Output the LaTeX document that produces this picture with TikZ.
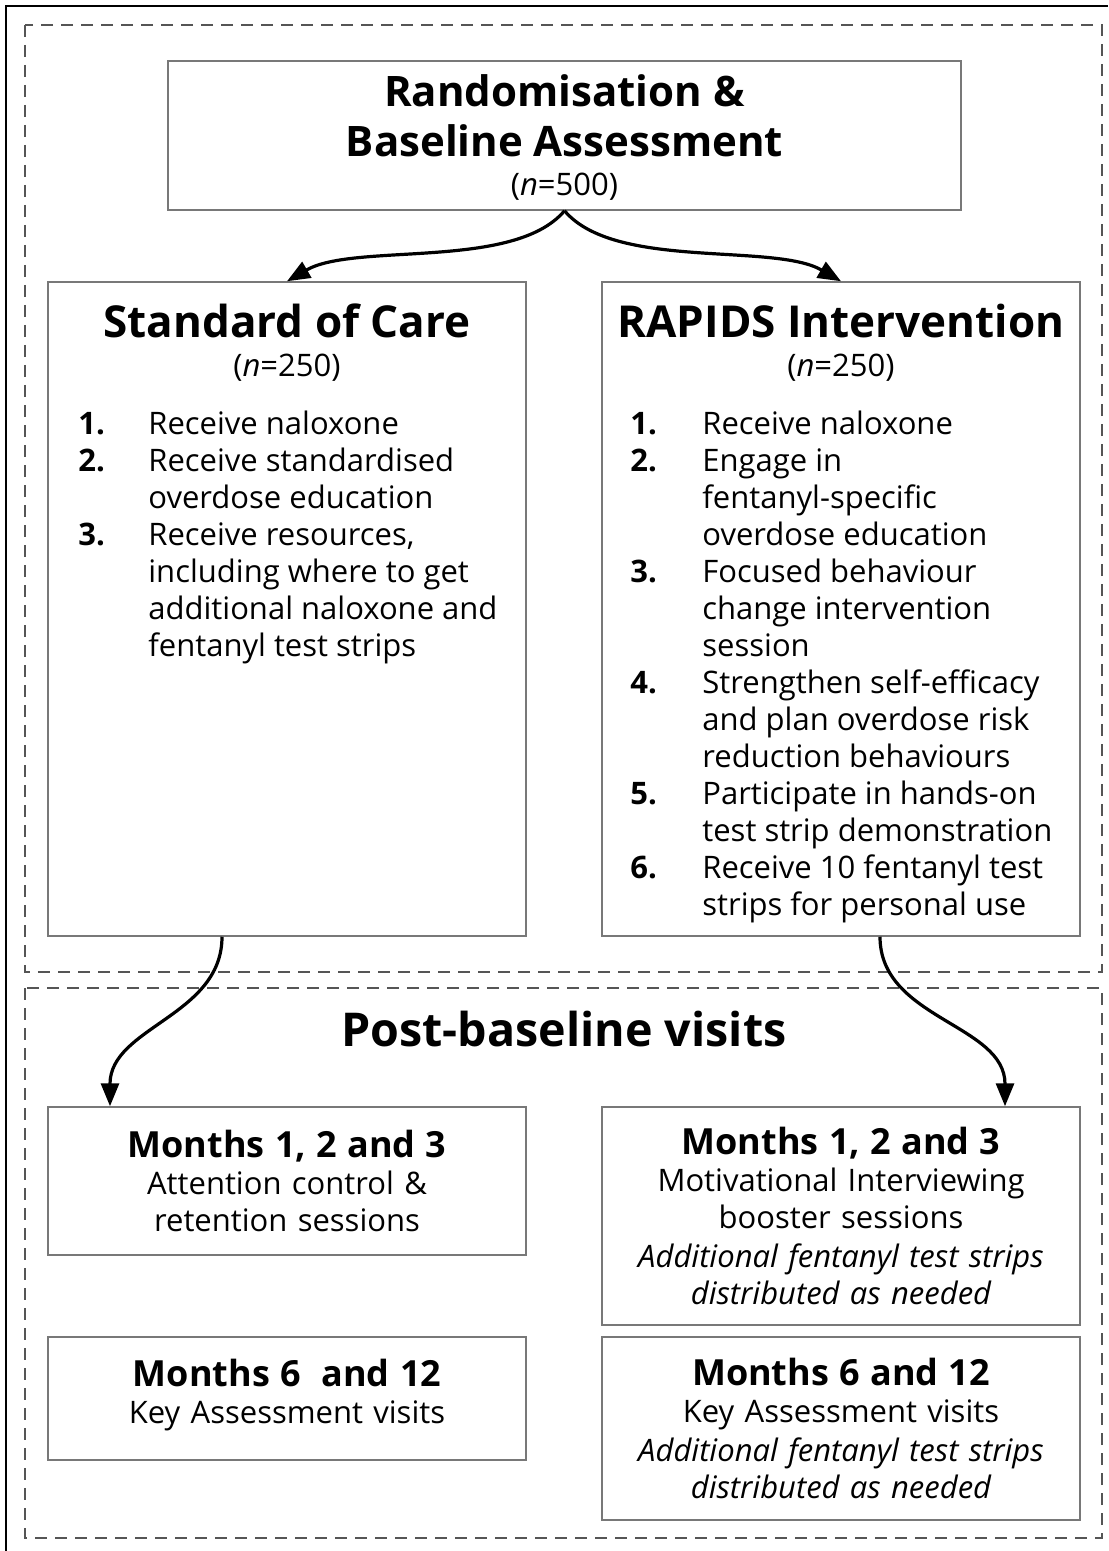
\documentclass[tikz,border=0pt]{standalone}
\usepackage{fontspec}
\setmainfont{Open Sans}
\usetikzlibrary{arrows.meta,positioning,calc}
\definecolor{ink}{RGB}{0,0,0}
\definecolor{edge}{RGB}{120,120,120}
\definecolor{dashgray}{RGB}{85,85,85}

\begin{document}
\begin{tikzpicture}[
    x=0.5pt,y=0.5pt,
    >={Triangle[length=11.5pt,width=9pt]},
    text=ink,
    every node/.style={font=\fontsize{15.5}{18.5}\selectfont},
    box/.style={
        draw=edge,
        line width=0.75pt,
        minimum width=239pt,
        inner sep=0pt,
        align=center
    },
    region/.style={draw=dashgray, line width=1pt, dash pattern=on 6pt off 4pt},
    head/.style={font=\fontsize{22}{26}\selectfont\bfseries},
    bighead/.style={font=\fontsize{21}{25}\selectfont\bfseries},
    arr/.style={->, line width=1.6pt, draw=ink}
]
\useasboundingbox (0,0) rectangle (1108,-1551);

% Outer frame (cut off at right and bottom)
\draw[ink, line width=1pt] (1108,-6) -- (6,-6) -- (6,-1551);

% Dashed regions
\draw[region] (25,-25) rectangle (1102,-972);
\draw[region] (25,-988) rectangle (1102,-1538);

% Randomisation box
\node[box, minimum width=396.5pt, minimum height=74.5pt] (rand) at (564.5,-135.5) {};
\node[bighead, anchor=base] (randA) at (564.5,-107) {Randomisation \&};
\node[bighead, anchor=base] (randB) at (564.5,-157) {Baseline Assessment};
\node[anchor=base] (randN) at (564.5,-196) {(\textit{n}=500)};

% Standard of care arm
\node[box, minimum height=327pt] (soc) at (287,-609) {};
\node[head, anchor=base] (socT) at (287,-338) {Standard of Care};
\node[anchor=base] (socN) at (287,-377) {(\textit{n}=250)};
\node[anchor=base west, inner sep=0pt] (socL) at (78,-434)
{
\begin{tabular}[t]{@{}p{35pt}@{}l@{}}
\textbf{1.} & Receive naloxone\\
\textbf{2.} & Receive standardised\\
 & overdose education\\
\textbf{3.} & Receive resources,\\
 & including where to get\\
 & additional naloxone and\\
 & fentanyl test strips
\end{tabular}
};

% RAPIDS arm
\node[box, minimum height=327pt] (rapids) at (841,-609) {};
\node[head, anchor=base] (rapT) at (841,-338) {RAPIDS Intervention};
\node[anchor=base] (rapN) at (841,-377) {(\textit{n}=250)};
\node[anchor=base west, inner sep=0pt] (rapL) at (630,-434)
{
\begin{tabular}[t]{@{}p{36pt}@{}l@{}}
\textbf{1.} & Receive naloxone\\
\textbf{2.} & Engage in\\
 & fentanyl-specific\\
 & overdose education\\
\textbf{3.} & Focused behaviour\\
 & change intervention\\
 & session\\
\textbf{4.} & Strengthen self-efficacy\\
 & and plan overdose risk\\
 & reduction behaviours\\
\textbf{5.} & Participate in hands-on\\
 & test strip demonstration\\
\textbf{6.} & Receive 10 fentanyl test\\
 & strips for personal use
\end{tabular}
};

% Post-baseline visits
\node[head, font=\fontsize{23.3}{27}\selectfont\bfseries, anchor=base] (post) at (564,-1046) {Post-baseline visits};

\node[box, text width=239pt, minimum height=74pt] (monA) at (287,-1181)
{{\fontsize{18}{18.5}\selectfont\bfseries Months 1, 2 and 3}\\
Attention control \&\\ retention sessions};
\node[box, text width=239pt, minimum height=61.5pt] (monB) at (287,-1398.5)
{{\fontsize{18}{18.5}\selectfont\bfseries Months 6~ and 12}\\
Key Assessment visits\vspace{3pt}};
\node[box, text width=239pt, minimum height=109pt] (monC) at (841,-1216)
{{\fontsize{18}{18.5}\selectfont\bfseries Months 1, 2 and 3}\\
Motivational Interviewing\\ booster sessions\\[1pt]
{\itshape Additional fentanyl test strips\\ distributed as needed}};
\node[box, text width=239pt, minimum height=91.5pt] (monD) at (841,-1428.5)
{{\fontsize{18}{18.5}\selectfont\bfseries Months 6 and 12}\\
Key Assessment visits\\[1pt]
{\itshape Additional fentanyl test strips\\ distributed as needed}};

% Arrows
\draw[arr] (rand.south) to[out=-130,in=30,looseness=0.7] (soc.north);
\draw[arr] (rand.south) to[out=-50,in=150,looseness=0.7] (rapids.north);
\draw[arr] ([xshift=-32.5pt]soc.south) to[out=-90,in=90] ([xshift=-88.5pt]monA.north);
\draw[arr] ([xshift=19.5pt]rapids.south) to[out=-90,in=90] ([xshift=82pt]monC.north);

\end{tikzpicture}
\end{document}
